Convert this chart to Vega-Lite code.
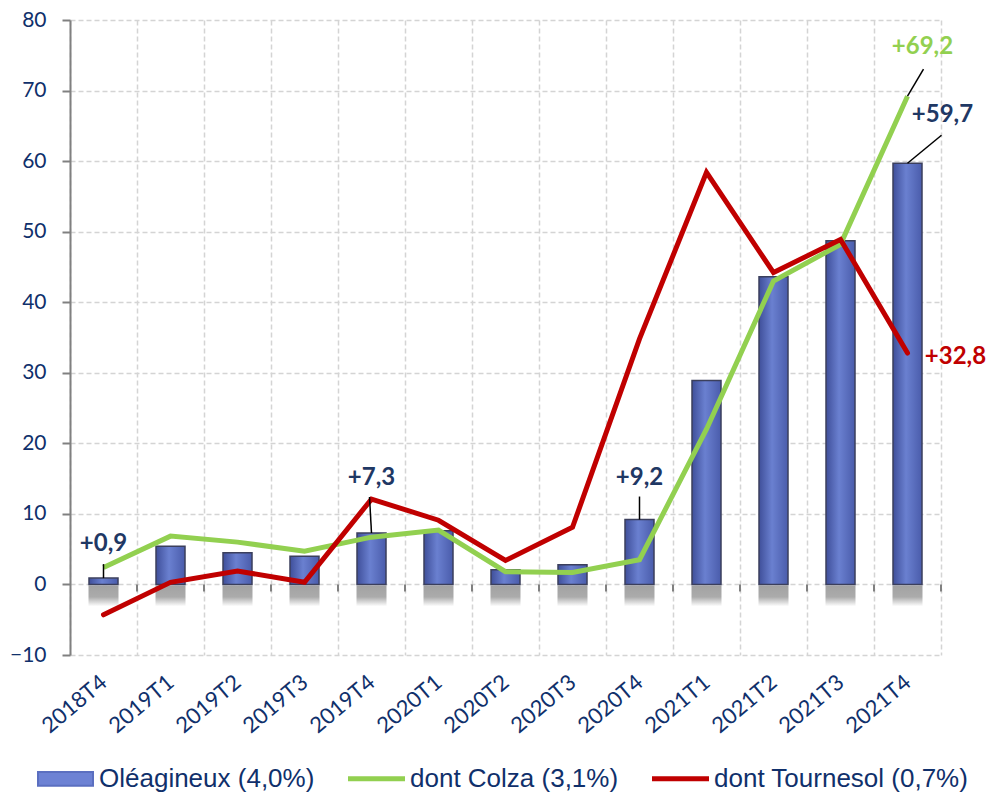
{
  "$schema": "https://vega.github.io/schema/vega-lite/v6.json",
  "width": 871,
  "height": 635,
  "autosize": {"type": "none"},
  "padding": {"left": 70, "top": 20, "right": 55, "bottom": 138},
  "background": "white",
  "config": {"view": {"stroke": null}, "font": "Lato"},
  "data": {
    "values": [
      {"q": "2018T4", "ole": 0.9, "colza": 2.4, "tour": -4.3},
      {"q": "2019T1", "ole": 5.4, "colza": 6.85, "tour": 0.3},
      {"q": "2019T2", "ole": 4.5, "colza": 6.0, "tour": 1.9},
      {"q": "2019T3", "ole": 4.0, "colza": 4.7, "tour": 0.3},
      {"q": "2019T4", "ole": 7.3, "colza": 6.7, "tour": 12.1},
      {"q": "2020T1", "ole": 7.6, "colza": 7.7, "tour": 9.1},
      {"q": "2020T2", "ole": 2.1, "colza": 1.8, "tour": 3.4},
      {"q": "2020T3", "ole": 2.8, "colza": 1.7, "tour": 8.1},
      {"q": "2020T4", "ole": 9.2, "colza": 3.5, "tour": 34.8},
      {"q": "2021T1", "ole": 28.9, "colza": 22.0, "tour": 58.4},
      {"q": "2021T2", "ole": 43.6, "colza": 43.0, "tour": 44.2},
      {"q": "2021T3", "ole": 48.7, "colza": 48.2, "tour": 48.9},
      {"q": "2021T4", "ole": 59.7, "colza": 69.2, "tour": 32.8}
    ]
  },
  "encoding": {
    "x": {
      "field": "q",
      "type": "nominal",
      "sort": null,
      "scale": {"paddingInner": 0, "paddingOuter": 0},
      "axis": {
        "title": null,
        "labelAngle": -40,
        "labelAlign": "right",
        "labelBaseline": "middle",
        "labelFont": "Lato",
        "labelFontSize": 22,
        "labelColor": "#10306b",
        "labelPadding": 24,
        "domain": false,
        "ticks": false,
        "tickBand": "extent",
        "grid": true,
        "gridColor": "#d4d4d4",
        "gridDash": [5, 3],
        "gridWidth": 1.5
      }
    }
  },
  "layer": [
    {
      "mark": {
        "type": "bar",
        "width": 30,
        "fill": {
          "gradient": "linear",
          "x1": 0, "x2": 0, "y1": 0, "y2": 1,
          "stops": [
            {"offset": 0, "color": "#a2a2a2"},
            {"offset": 0.55, "color": "#ababab"},
            {"offset": 1, "color": "#ffffff"}
          ]
        }
      },
      "encoding": {"y": {"datum": -0.15}, "y2": {"datum": -3.1}}
    },
    {
      "mark": {"type": "rule", "color": "#808080", "strokeWidth": 2, "y2Offset": 7},
      "encoding": {
        "x": {"field": "q", "type": "nominal", "sort": null, "bandPosition": 1},
        "y": {"datum": 0},
        "y2": {"datum": 0}
      }
    },
    {
      "mark": {"type": "rule", "color": "#808080", "strokeWidth": 2},
      "encoding": {"y": {"datum": 0}}
    },
    {
      "mark": {"type": "bar", "width": 29, "stroke": "#3b3f5c", "strokeWidth": 1.5},
      "encoding": {
        "y": {
          "field": "ole",
          "type": "quantitative",
          "scale": {"domain": [-10, 80], "nice": false, "zero": false},
          "axis": {
            "title": null,
            "values": [-10, 0, 10, 20, 30, 40, 50, 60, 70, 80],
            "labelFont": "Lato",
            "labelFontSize": 21,
            "labelColor": "#10306b",
            "labelPadding": 16,
            "domainColor": "#808080",
            "domainWidth": 2,
            "tickColor": "#808080",
            "tickWidth": 2,
            "tickSize": 8,
            "grid": true,
            "gridColor": "#d4d4d4",
            "gridDash": [5, 3],
            "gridWidth": 1.5
          }
        },
        "y2": {"datum": 0},
        "fill": {
          "value": {
            "gradient": "linear",
            "x1": 0, "x2": 1, "y1": 0, "y2": 0,
            "stops": [
              {"offset": 0, "color": "#3f4f9a"},
              {"offset": 0.45, "color": "#6a80d0"},
              {"offset": 1, "color": "#4a5cab"}
            ]
          }
        }
      }
    },
    {
      "mark": {"type": "line", "strokeWidth": 5, "strokeJoin": "miter", "strokeCap": "butt"},
      "encoding": {
        "y": {"field": "colza", "type": "quantitative"},
        "color": {
          "datum": "dont Colza (3,1%)",
          "scale": {
            "domain": ["Oléagineux (4,0%)", "dont Colza (3,1%)", "dont Tournesol (0,7%)"],
            "range": ["#5b6fc0", "#92d050", "#c00000"]
          },
          "legend": {
            "orient": "none",
            "legendX": -33,
            "legendY": 730,
            "direction": "horizontal",
            "title": null,
            "symbolSize": 3025,
            "symbolType": "M-1,-0.26H1V0.26H-1Z",
            "labelFont": "Liberation Sans",
            "labelFontSize": 26,
            "labelColor": "#10306b",
            "labelLimit": 500,
            "labelOffset": 5,
            "columnPadding": 30,
            "encoding": {
              "symbols": {
                "shape": {"value": {"expr": "datum.value === 'Oléagineux (4,0%)' ? 'M-1,-0.25H1V0.25H-1Z' : 'M-1,-0.055H1V0.055H-1Z'"}},
                "fill": {"value": {"expr": "datum.value === 'Oléagineux (4,0%)' ? '#6d82d4' : (datum.value === 'dont Colza (3,1%)' ? '#92d050' : '#c00000')"}},
                "stroke": {"value": {"expr": "datum.value === 'Oléagineux (4,0%)' ? '#4a4a55' : (datum.value === 'dont Colza (3,1%)' ? '#92d050' : '#c00000')"}},
                "strokeWidth": {"value": 2},
                "opacity": {"value": 1}
              }
            }
          }
        }
      }
    },
    {
      "mark": {"type": "line", "strokeWidth": 5, "strokeJoin": "miter", "strokeCap": "round"},
      "encoding": {
        "y": {"field": "tour", "type": "quantitative"},
        "color": {"datum": "dont Tournesol (0,7%)"}
      }
    },
    {
      "transform": [{"filter": "datum.q === '2018T4'"}],
      "layer": [
        {"mark": {"type": "rule", "color": "black", "strokeWidth": 1.5, "y2Offset": -14},
         "encoding": {"y": {"field": "ole", "type": "quantitative"}, "y2": {"field": "ole"}}},
        {"mark": {"type": "text", "dy": -34, "fontSize": 24, "fontWeight": "bold", "color": "#1f3864", "font": "Lato"},
         "encoding": {"y": {"field": "ole", "type": "quantitative"}, "text": {"value": "+0,9"}}}
      ]
    },
    {
      "transform": [{"filter": "datum.q === '2019T4'"}],
      "layer": [
        {"mark": {"type": "rule", "color": "black", "strokeWidth": 1.5, "y2Offset": -36, "x2Offset": -2},
         "encoding": {"y": {"field": "ole", "type": "quantitative"}, "y2": {"field": "ole"}, "x2": {"field": "q"}}},
        {"mark": {"type": "text", "dy": -55, "fontSize": 24, "fontWeight": "bold", "color": "#1f3864", "font": "Lato"},
         "encoding": {"y": {"field": "ole", "type": "quantitative"}, "text": {"value": "+7,3"}}}
      ]
    },
    {
      "transform": [{"filter": "datum.q === '2020T4'"}],
      "layer": [
        {"mark": {"type": "rule", "color": "black", "strokeWidth": 1.5, "y2Offset": -23},
         "encoding": {"y": {"field": "ole", "type": "quantitative"}, "y2": {"field": "ole"}}},
        {"mark": {"type": "text", "dy": -42, "fontSize": 24, "fontWeight": "bold", "color": "#1f3864", "font": "Lato"},
         "encoding": {"y": {"field": "ole", "type": "quantitative"}, "text": {"value": "+9,2"}}}
      ]
    },
    {
      "transform": [{"filter": "datum.q === '2021T4'"}],
      "layer": [
        {"mark": {"type": "rule", "color": "black", "strokeWidth": 1.5, "y2Offset": -28, "x2Offset": 34},
         "encoding": {"y": {"field": "ole", "type": "quantitative"}, "y2": {"field": "ole"}, "x2": {"field": "q"}}},
        {"mark": {"type": "text", "dx": 35, "dy": -48, "fontSize": 24, "fontWeight": "bold", "color": "#1f3864", "font": "Lato"},
         "encoding": {"y": {"field": "ole", "type": "quantitative"}, "text": {"value": "+59,7"}}},
        {"mark": {"type": "rule", "color": "black", "strokeWidth": 1.5, "y2Offset": -27, "x2Offset": 16},
         "encoding": {"y": {"field": "colza", "type": "quantitative"}, "y2": {"field": "colza"}, "x2": {"field": "q"}}},
        {"mark": {"type": "text", "dx": 15, "dy": -49, "fontSize": 24, "fontWeight": "bold", "color": "#92d050", "font": "Lato"},
         "encoding": {"y": {"field": "colza", "type": "quantitative"}, "text": {"value": "+69,2"}}},
        {"mark": {"type": "text", "dx": 48, "dy": 4, "fontSize": 24, "fontWeight": "bold", "color": "#c00000", "font": "Lato"},
         "encoding": {"y": {"field": "tour", "type": "quantitative"}, "text": {"value": "+32,8"}}}
      ]
    }
  ]
}
